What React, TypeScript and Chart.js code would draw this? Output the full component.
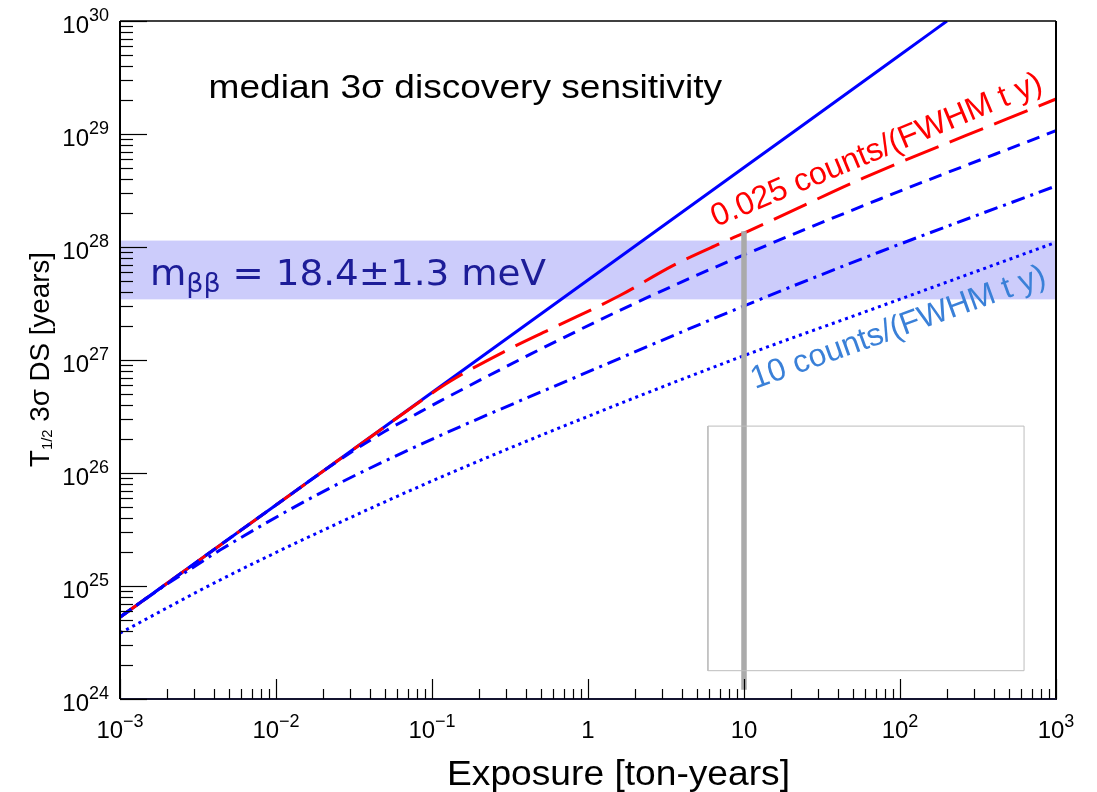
import React, { useEffect, useRef } from 'react';
import { Chart, registerables } from 'chart.js';
Chart.register(...registerables);

// ---------- data ----------
const exposureSolid = [0.001, 0.01, 0.1, 1, 10, 100, 200];
const sensSolid = [5.3e24, 5.2e25, 5.15e26, 5.1e27, 5.05e28, 5.0e29, 1.0e30];

const exposureRed = [0.001, 0.01, 0.05, 0.084, 0.13, 0.285, 0.6, 1.6, 3.5, 7, 10, 14, 58, 485, 1000];
const sensRed = [5.3e24, 5.2e25, 2.57e26, 4.3e26, 6.45e26, 1.17e27, 1.93e27, 3.72e27, 6.84e27, 1.07e28, 1.33e28, 1.64e28, 4.07e28, 1.36e29, 2.04e29];

const exposureDashed = [0.001, 0.01, 0.025, 0.05, 0.084, 0.1125, 0.425, 1.6, 3.9, 9.4, 74.5, 1000];
const sensDashed = [5.3e24, 5.2e25, 1.28e26, 2.34e26, 3.47e26, 4.32e26, 1.12e27, 2.75e27, 4.84e27, 8.22e27, 2.66e28, 1.07e29];

const exposureDashDot = [0.001, 0.002, 0.00294, 0.00438, 0.0191, 0.0838, 0.982, 10.9, 74.5, 1000];
const sensDashDot = [5.3e24, 1.04e25, 1.46e25, 2.08e25, 6.61e25, 1.78e26, 7.76e26, 3.16e27, 9.08e27, 3.47e28];

const exposureDotted = [0.001, 0.00438, 0.0191, 0.1125, 0.982, 9.42, 74.5, 1000];
const sensDotted = [3.83e24, 1.13e25, 3.02e25, 9.12e25, 3.14e26, 1.06e27, 2.98e27, 1.10e28];

const bandLow = 3.44e27;
const bandHigh = 1.14e28;

const grayLineX = [10, 10];
const grayLineY = [1.21e24, 1.38e28];

const boxX = [5.87, 624, 624, 5.87, 5.87];
const boxY = [1.78e24, 1.78e24, 2.6e26, 2.6e26, 1.78e24];

const xMin = 1e-3, xMax = 1e3, yMin = 1e24, yMax = 1e30;
const xDecades = [-3, -2, -1, 0, 1, 2, 3];
const xTickLabels: [string, string][] = [['10', '−3'], ['10', '−2'], ['10', '−1'], ['1', ''], ['10', ''], ['10', '2'], ['10', '3']];
const yDecades = [24, 25, 26, 27, 28, 29, 30];
const yTickLabels: [string, string][] = [['10', '24'], ['10', '25'], ['10', '26'], ['10', '27'], ['10', '28'], ['10', '29'], ['10', '30']];

const titleText = 'median 3σ discovery sensitivity';
const xTitle = 'Exposure [ton-years]';
const redLabel = '0.025 counts/(FWHM t y)';
const blueLabel = '10 counts/(FWHM t y)';

// ---------- helpers ----------
type Seg = { t: string; font: string; dy?: number };
function drawRich(
  ctx: CanvasRenderingContext2D,
  segs: Seg[],
  x: number,
  y: number,
  opts: { angle?: number; width?: number; align?: 'left' | 'center' | 'right'; color: string }
) {
  ctx.save();
  let total = 0;
  const ws = segs.map((s) => {
    ctx.font = s.font;
    const w = ctx.measureText(s.t).width;
    total += w;
    return w;
  });
  const sc = opts.width ? opts.width / total : 1;
  ctx.translate(x, y);
  if (opts.angle) ctx.rotate(opts.angle);
  ctx.scale(sc, 1);
  let cx = opts.align === 'center' ? -total / 2 : opts.align === 'right' ? -total : 0;
  ctx.fillStyle = opts.color;
  ctx.textBaseline = 'alphabetic';
  ctx.textAlign = 'left';
  segs.forEach((s, i) => {
    ctx.font = s.font;
    ctx.fillText(s.t, cx, s.dy || 0);
    cx += ws[i];
  });
  ctx.restore();
}

const SANS = '"Liberation Sans", Arial, Helvetica, sans-serif';
const DJV = '"DejaVu Sans", sans-serif';

const rootPlugin = {
  id: 'rootStyle',
  beforeDatasetsDraw(chart: any) {
    const { ctx, chartArea: a, scales } = chart;
    const y = scales.y;
    const yT = y.getPixelForValue(bandHigh);
    const yB = y.getPixelForValue(bandLow);
    ctx.save();
    ctx.fillStyle = '#ccccfb';
    ctx.fillRect(a.left, yT, a.right - a.left, yB - yT);
    ctx.restore();
    drawRich(
      ctx,
      [
        { t: 'm', font: `36px ${DJV}` },
        { t: 'ββ', font: `26px ${DJV}`, dy: 7 },
        { t: ' = 18.4±1.3 meV', font: `36px ${DJV}` },
      ],
      150,
      285,
      { color: '#1c1c98', width: 396 }
    );
  },
  afterDatasetsDraw(chart: any) {
    const { ctx, chartArea: a, scales } = chart;
    const xs = scales.x, ys = scales.y;
    ctx.save();
    // frame
    ctx.strokeStyle = '#000';
    ctx.lineWidth = 1.5;
    ctx.beginPath();
    ctx.moveTo(a.left, a.top);
    ctx.lineTo(a.right, a.top);
    ctx.stroke();
    ctx.lineWidth = 2;
    ctx.beginPath();
    ctx.moveTo(a.right, a.top);
    ctx.lineTo(a.right, a.bottom);
    ctx.stroke();
    ctx.beginPath();
    ctx.moveTo(a.left, a.top);
    ctx.lineTo(a.left, a.bottom);
    ctx.stroke();
    ctx.strokeStyle = '#141430';
    ctx.beginPath();
    ctx.moveTo(a.left, a.bottom);
    ctx.lineTo(a.right + 1, a.bottom);
    ctx.stroke();

    // ticks
    ctx.strokeStyle = '#000';
    ctx.lineWidth = 1.2;
    for (let n = -3; n <= 3; n++) {
      for (let k = 1; k <= 9; k++) {
        const v = k * Math.pow(10, n);
        if (v > xMax * 1.0001) break;
        const px = Math.round(xs.getPixelForValue(v)) + 0.5;
        const len = k === 1 ? 20 : 10;
        ctx.beginPath();
        ctx.moveTo(px, a.bottom);
        ctx.lineTo(px, a.bottom - len);
        ctx.stroke();
      }
    }
    for (let n = 24; n <= 30; n++) {
      for (let k = 1; k <= 9; k++) {
        const v = k * Math.pow(10, n);
        if (v > yMax * 1.0001) break;
        const py = Math.round(ys.getPixelForValue(v)) + 0.5;
        const len = k === 1 ? 27 : 13;
        ctx.beginPath();
        ctx.moveTo(a.left, py);
        ctx.lineTo(a.left + len, py);
        ctx.stroke();
      }
    }
    ctx.restore();

    // tick labels
    xDecades.forEach((e, i) => {
      const px = xs.getPixelForValue(Math.pow(10, e));
      const [b, s] = xTickLabels[i];
      const segs: Seg[] = [{ t: b, font: `24px ${SANS}` }];
      if (s) segs.push({ t: s, font: `18px ${SANS}`, dy: -11 });
      drawRich(ctx, segs, px, 738, { color: '#000', align: 'center' });
    });
    yDecades.forEach((e, i) => {
      const py = ys.getPixelForValue(Math.pow(10, e));
      const [b, s] = yTickLabels[i];
      drawRich(
        ctx,
        [
          { t: b, font: `24px ${SANS}` },
          { t: s, font: `18px ${SANS}`, dy: -12 },
        ],
        109,
        py + 12,
        { color: '#000', align: 'right' }
      );
    });

    // axis titles
    drawRich(ctx, [{ t: xTitle, font: `35px ${SANS}` }], 447, 785, { color: '#000', width: 343 });
    drawRich(
      ctx,
      [
        { t: 'T', font: `28px ${SANS}` },
        { t: '1/2', font: `15px ${SANS}`, dy: 3 },
        { t: ' 3σ DS [years]', font: `28px ${SANS}` },
      ],
      49,
      467,
      { color: '#000', angle: -Math.PI / 2, width: 215 }
    );

    // title
    drawRich(ctx, [{ t: titleText, font: `33px ${SANS}` }], 208.5, 98, { color: '#000', width: 513.5 });

    // curve labels
    drawRich(ctx, [{ t: redLabel, font: `32px ${SANS}` }], 716, 227, {
      color: '#ff0000',
      angle: (-22.6 * Math.PI) / 180,
    });
    drawRich(ctx, [{ t: blueLabel, font: `32px ${SANS}` }], 755, 389, {
      color: '#3a80d8',
      angle: (-19.8 * Math.PI) / 180,
    });
  },
};

function pts(xs: number[], ys: number[]) {
  return xs.map((x, i) => ({ x, y: ys[i] }));
}

export default function App() {
  const ref = useRef<HTMLCanvasElement | null>(null);
  useEffect(() => {
    if (!ref.current) return;
    const common = { pointRadius: 0, fill: false, borderCapStyle: 'butt', cubicInterpolationMode: 'monotone' };
    const chart = new Chart(ref.current, {
      type: 'line',
      data: {
        datasets: [
          { ...common, label: 'box', data: pts(boxX, boxY), borderColor: '#bdbdbd', borderWidth: 1, order: 0, cubicInterpolationMode: 'default', tension: 0 },
          { ...common, label: 'gray', data: pts(grayLineX, grayLineY), borderColor: '#aaaaaa', borderWidth: 5.5, order: 0 },
          { ...common, label: 'dotted', data: pts(exposureDotted, sensDotted), borderColor: '#0000ff', borderWidth: 3, borderDash: [3, 4], order: 1 },
          { ...common, label: 'dashdot', data: pts(exposureDashDot, sensDashDot), borderColor: '#0000ff', borderWidth: 3, borderDash: [14, 6, 3, 6], order: 1 },
          { ...common, label: 'dashed', data: pts(exposureDashed, sensDashed), borderColor: '#0000ff', borderWidth: 3, borderDash: [13, 8], order: 1 },
          { ...common, label: 'red', data: pts(exposureRed, sensRed), borderColor: '#ff0000', borderWidth: 3, borderDash: [36, 12], order: 2 },
          { ...common, label: 'solid', data: pts(exposureSolid, sensSolid), borderColor: '#0000ff', borderWidth: 3, order: 3 },
        ] as any,
      },
      options: {
        responsive: false,
        animation: false,
        devicePixelRatio: 1,
        layout: { padding: { left: 120, top: 21, right: 41, bottom: 93 } },
        scales: {
          x: { type: 'logarithmic', min: xMin, max: xMax, display: false },
          y: { type: 'logarithmic', min: yMin, max: yMax, display: false },
        },
        plugins: { legend: { display: false }, tooltip: { enabled: false } },
        events: [],
      } as any,
      plugins: [rootPlugin],
    });
    return () => chart.destroy();
  }, []);
  return (
    <canvas
      ref={ref}
      width={1097}
      height={792}
      style={{ position: 'absolute', left: 0, top: 0, width: 1097, height: 792, background: '#fff' }}
    />
  );
}
